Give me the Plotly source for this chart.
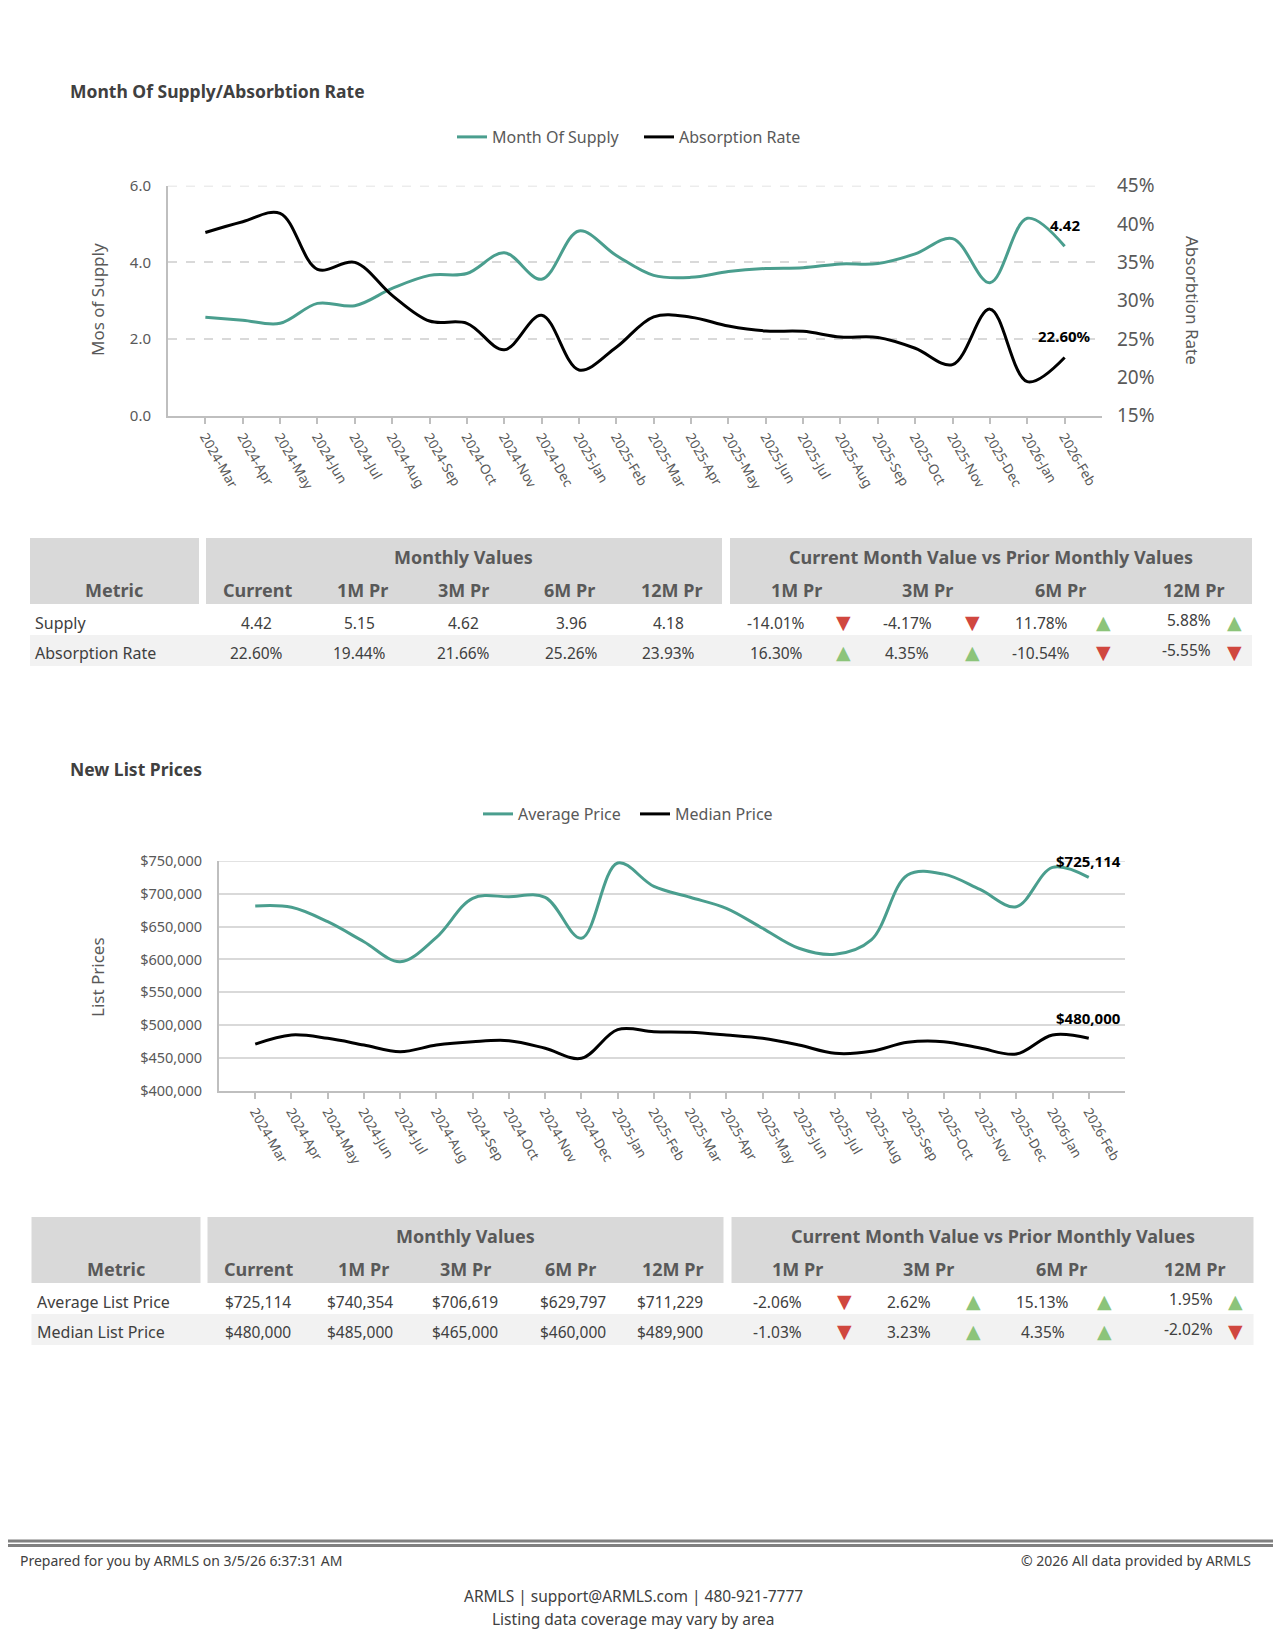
import plotly.graph_objects as go

W, H = 1275, 1650

# ---------------- data ----------------
months = ["2024-Mar", "2024-Apr", "2024-May", "2024-Jun", "2024-Jul", "2024-Aug",
          "2024-Sep", "2024-Oct", "2024-Nov", "2024-Dec", "2025-Jan", "2025-Feb",
          "2025-Mar", "2025-Apr", "2025-May", "2025-Jun", "2025-Jul", "2025-Aug",
          "2025-Sep", "2025-Oct", "2025-Nov", "2025-Dec", "2026-Jan", "2026-Feb"]

months_supply = [2.57, 2.49, 2.41, 2.93, 2.87, 3.32, 3.66, 3.71, 4.25, 3.56, 4.82, 4.18,
                 3.66, 3.61, 3.76, 3.84, 3.86, 3.96, 3.97, 4.22, 4.62, 3.47, 5.15, 4.42]
absorption_rate = [38.9, 40.3, 41.4, 34.1, 35.0, 30.7, 27.35, 27.05, 23.6, 28.1, 20.97, 23.93,
                   27.9, 27.85, 26.7, 26.05, 26.0, 25.26, 25.2, 23.8, 21.66, 28.9, 19.44, 22.60]

avg_price = [681400, 679500, 657500, 627000, 596500, 633700, 693200, 695600, 694700, 632200,
             747000, 711229, 694700, 677900, 647500, 617000, 607800, 629797, 728700, 730000,
             706619, 680400, 740354, 725114]
median_price = [471000, 484900, 479800, 469600, 459400, 469600, 474700, 476200, 464600, 449400,
                493000, 489900, 489000, 484900, 479800, 469600, 457000, 460000, 473800, 474700,
                465000, 455900, 485000, 480000]

col_headers = ["Current", "1M Pr", "3M Pr", "6M Pr", "12M Pr"]
chg_headers = ["1M Pr", "3M Pr", "6M Pr", "12M Pr"]

t1_metrics = ["Supply", "Absorption Rate"]
t1_values = [["4.42", "5.15", "4.62", "3.96", "4.18"],
             ["22.60%", "19.44%", "21.66%", "25.26%", "23.93%"]]
t1_changes = [[-14.01, -4.17, 11.78, 5.88],
              [16.30, 4.35, -10.54, -5.55]]

t2_metrics = ["Average List Price", "Median List Price"]
t2_values = [["$725,114", "$740,354", "$706,619", "$629,797", "$711,229"],
             ["$480,000", "$485,000", "$465,000", "$460,000", "$489,900"]]
t2_changes = [[-2.06, 2.62, 15.13, 1.95],
              [-1.03, 3.23, 4.35, -2.02]]

footer_left = "Prepared for you by ARMLS on 3/5/26 6:37:31 AM"
footer_right = "© 2026 All data provided by ARMLS"
footer_c1 = "ARMLS | support@ARMLS.com | 480-921-7777"
footer_c2 = "Listing data coverage may vary by area"

# ---------------- style ----------------
FONT = "Noto Sans"
TXT = "#595959"
DARK = "#404040"
TEAL = "#4a9e8e"
GRID = "#d9d9d9"
AXL = "#bfbfbf"
RED = "#d0473f"
GREEN = "#8cc47a"


def X(p):
    return p / W


def Y(p):
    return 1 - p / H


fig = go.Figure()

# chart 1
fig.add_trace(go.Scatter(x=months, y=months_supply, name="Month Of Supply", mode="lines",
                         line=dict(color=TEAL, width=3, shape="spline"),
                         xaxis="x", yaxis="y", legend="legend"))
fig.add_trace(go.Scatter(x=months, y=absorption_rate, name="Absorption Rate", mode="lines",
                         line=dict(color="black", width=3, shape="spline"),
                         xaxis="x", yaxis="y2", legend="legend"))
# chart 2
fig.add_trace(go.Scatter(x=months, y=avg_price, name="Average Price", mode="lines",
                         line=dict(color=TEAL, width=3, shape="spline"),
                         xaxis="x2", yaxis="y3", legend="legend2"))
fig.add_trace(go.Scatter(x=months, y=median_price, name="Median Price", mode="lines",
                         line=dict(color="black", width=3, shape="spline"),
                         xaxis="x2", yaxis="y3", legend="legend2"))

xcommon = dict(type="category", range=[-1, len(months)], tickangle=60, automargin=False,
               tickfont=dict(family=FONT, size=13.5, color=TXT),
               showline=True, linecolor=AXL, linewidth=2, ticks="outside",
               tickcolor=AXL, ticklen=6, tickwidth=1.5, showgrid=False, zeroline=False)

fig.update_layout(
    width=W, height=H, margin=dict(l=0, r=0, t=0, b=0, pad=0, autoexpand=False),
    paper_bgcolor="white", plot_bgcolor="white",
    font=dict(family=FONT, color=TXT),
    xaxis=dict(domain=[X(168), X(1102)], anchor="y", **xcommon),
    yaxis=dict(domain=[Y(415.7), Y(185.7)], range=[0, 6], dtick=2, tickformat=".1f",
               automargin=False,
               tickfont=dict(family=FONT, size=15, color=TXT),
               showgrid=True, gridcolor=GRID, griddash="dash", gridwidth=1.5,
               showline=True, linecolor=AXL, linewidth=2, zeroline=False,
               ticks="", ticklabelstandoff=12),
    yaxis2=dict(overlaying="y", side="right", anchor="x", range=[15, 45], dtick=5,
                automargin=False,
                ticksuffix="%", tickfont=dict(family=FONT, size=19, color=TXT),
                showgrid=False, showline=False, zeroline=False, ticks="",
                ticklabelstandoff=14),
    xaxis2=dict(domain=[X(219), X(1125)], anchor="y3", **xcommon),
    yaxis3=dict(domain=[Y(1090.7), Y(861)], anchor="x2", range=[400000, 750000], dtick=50000,
                automargin=False,
                tickformat="$,.0f", tickfont=dict(family=FONT, size=14.5, color=TXT),
                showgrid=True, gridcolor=GRID, gridwidth=1.5,
                showline=True, linecolor=AXL, linewidth=2, zeroline=False,
                ticks="", ticklabelstandoff=12),
    legend=dict(orientation="h", x=X(452), xanchor="left", y=Y(137), yanchor="middle",
                entrywidth=142, entrywidthmode="pixels",
                font=dict(family=FONT, size=16, color=TXT), bgcolor="rgba(0,0,0,0)"),
    legend2=dict(orientation="h", x=X(478), xanchor="left", y=Y(814), yanchor="middle",
                 entrywidth=112, entrywidthmode="pixels",
                 font=dict(family=FONT, size=16, color=TXT), bgcolor="rgba(0,0,0,0)"),
    showlegend=True,
)

shapes = []
ann = []


def text(x, y, s, size=15, color=DARK, bold=False, xanchor="center", angle=0, family=FONT):
    ann.append(dict(x=X(x), y=Y(y), xref="paper", yref="paper", showarrow=False,
                    text=f"<b>{s}</b>" if bold else s, textangle=angle,
                    font=dict(family=family, size=size, color=color),
                    xanchor=xanchor, yanchor="middle"))


def rect(x0, y0, x1, y1, color):
    shapes.append(dict(type="rect", xref="paper", yref="paper", x0=X(x0), x1=X(x1),
                       y0=Y(y1), y1=Y(y0), fillcolor=color, line=dict(width=0), layer="below"))


# top gridlines (drawn explicitly so the edge line shows)
shapes.append(dict(type="line", xref="x domain", yref="y", x0=0, x1=1, y0=6, y1=6,
                   line=dict(color=GRID, width=1.5, dash="dash"), layer="below"))
shapes.append(dict(type="line", xref="x2 domain", yref="y3", x0=0, x1=1, y0=750000, y1=750000,
                   line=dict(color=GRID, width=1.5), layer="below"))

# titles
text(68, 91, "Month Of Supply/Absorbtion Rate", size=17.5, color=DARK, bold=True, xanchor="left")
text(68, 769, "New List Prices", size=17.5, color=DARK, bold=True, xanchor="left")
text(97, 300, "Mos of Supply", size=17, color=TXT, angle=-90)
text(1193, 300, "Absorbtion Rate", size=17, color=TXT, angle=90)
text(97, 977, "List Prices", size=17, color=TXT, angle=-90)

# end labels
ann.append(dict(x=months[-1], y=months_supply[-1], xref="x", yref="y", showarrow=False,
                text=f"<b>{months_supply[-1]:.2f}</b>", yshift=21,
                font=dict(family=FONT, size=15, color="black")))
ann.append(dict(x=months[-1], y=absorption_rate[-1], xref="x", yref="y2", showarrow=False,
                text=f"<b>{absorption_rate[-1]:.2f}%</b>", yshift=21,
                font=dict(family=FONT, size=15, color="black")))
ann.append(dict(x=months[-1], y=avg_price[-1], xref="x2", yref="y3", showarrow=False,
                text=f"<b>${avg_price[-1]:,}</b>", yshift=16,
                font=dict(family=FONT, size=15, color="black")))
ann.append(dict(x=months[-1], y=median_price[-1], xref="x2", yref="y3", showarrow=False,
                text=f"<b>${median_price[-1]:,}</b>", yshift=20,
                font=dict(family=FONT, size=15, color="black")))


def table(top, dx, metrics, values, changes):
    bot = top + 66
    rect(30 + dx, top, 199 + dx, bot, GRID)
    rect(206 + dx, top, 722 + dx, bot, GRID)
    rect(730 + dx, top, 1252 + dx, bot, GRID)
    rect(30 + dx, top + 97, 1252 + dx, top + 128, "#f2f2f2")
    text(464 + dx, top + 19, "Monthly Values", size=18, color=TXT, bold=True)
    text(991 + dx, top + 19, "Current Month Value vs Prior Monthly Values", size=18, color=TXT, bold=True)
    text(114 + dx, top + 52, "Metric", size=18, color=TXT, bold=True)
    for cx, h in zip([257, 362, 464, 569, 671], col_headers):
        text(cx + dx, top + 52, h, size=18, color=TXT, bold=True)
    for cx, h in zip([796, 927, 1060, 1193], chg_headers):
        text(cx + dx, top + 52, h, size=18, color=TXT, bold=True)
    for r, (m, vals, chg) in enumerate(zip(metrics, values, changes)):
        ry = top + 85 + 30 * r
        text(33 + dx, ry, m, size=16, color=DARK, xanchor="left")
        for cx, v in zip([256, 359, 463, 571, 668], vals):
            text(cx + dx, ry, v, size=15.5, color=DARK)
        for i, (c, tx) in enumerate(zip(chg, [843, 972, 1103, 1234])):
            s = f"{c:.2f}%"
            if i < 3:
                text([776, 907, 1041][i] + dx, ry, s, size=15.5, color=DARK)
            else:
                text(1213 + dx, ry - 3, s, size=15.5, color=DARK, xanchor="right")
            up = c > 0
            text(tx + dx, ry - 1, "▲" if up else "▼", size=19, color=GREEN if up else RED,
                 family="DejaVu Sans")


table(538, 0, t1_metrics, t1_values, t1_changes)
table(1217, 1.5, t2_metrics, t2_values, t2_changes)

# footer
shapes.append(dict(type="line", xref="paper", yref="paper", x0=X(8), x1=X(1273), y0=Y(1541), y1=Y(1541),
                   line=dict(color="#808080", width=3)))
shapes.append(dict(type="line", xref="paper", yref="paper", x0=X(8), x1=X(1273), y0=Y(1545.5), y1=Y(1545.5),
                   line=dict(color="#808080", width=3)))
text(18, 1560, footer_left, size=14, color=DARK, xanchor="left")
text(1253, 1560, footer_right, size=14, color=DARK, xanchor="right")
text(633, 1596, footer_c1, size=15.5, color=DARK)
text(633, 1619, footer_c2, size=15.5, color=DARK)

fig.update_layout(shapes=shapes, annotations=ann)
fig.write_html("out.html", config={"displayModeBar": False},
               post_script="document.body.style.margin='0px';")
